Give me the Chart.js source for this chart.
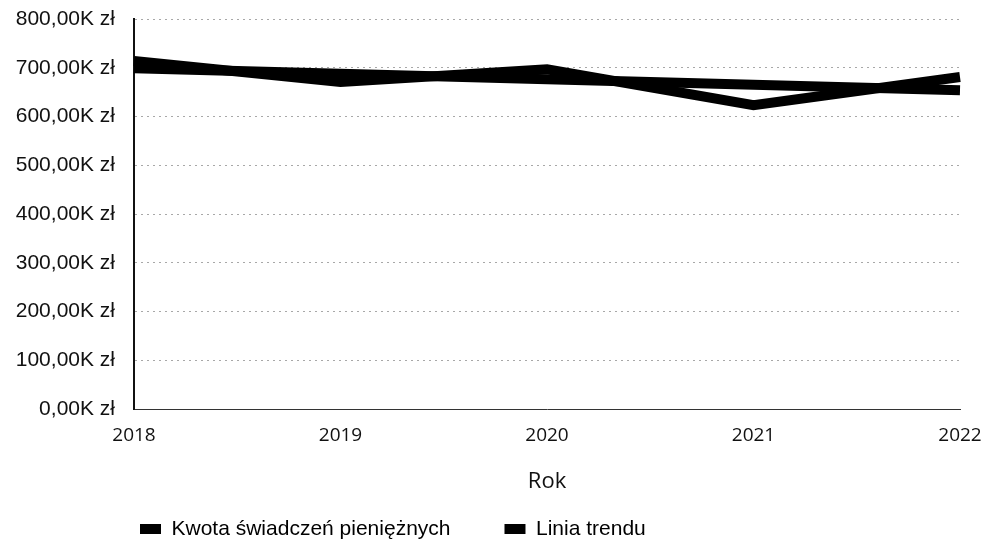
<!DOCTYPE html>
<html>
<head>
<meta charset="utf-8">
<script src="https://cdn.jsdelivr.net/npm/chart.js@4/dist/chart.umd.min.js"></script>
<style>
  html, body { margin: 0; padding: 0; background: #ffffff; }
  #wrap { width: 984px; height: 544px; position: relative; }
</style>
</head>
<body>
<div id="wrap"><canvas id="c" width="984" height="544"></canvas></div>
<script>
// Data (values in thousands of zł)
const years = ['2018', '2019', '2020', '2021', '2022'];
const kwotaSwiadczen = [714, 671, 697, 623, 681];
const liniaTrendu = [699, null, null, null, 654];
const seriesNames = ['Kwota świadczeń pieniężnych', 'Linia trendu'];
const axisTitleX = 'Rok';

const legendShift = {
  id: 'legendShift',
  afterLayout(chart) {
    const lg = chart.legend;
    if (!lg) return;
    const pad = lg.options.labels.padding;
    lg.left = 140 - pad;
    lg.right = lg.left + 980;
    lg.top = 518.5 - pad;
    lg.bottom = chart.height + 10;
  }
};

new Chart(document.getElementById('c'), {
  type: 'line',
  data: {
    labels: years,
    datasets: [
      {
        label: seriesNames[0],
        data: kwotaSwiadczen,
        borderColor: '#000000',
        backgroundColor: '#000000',
        borderWidth: 10,
        pointRadius: 0,
        tension: 0,
        fill: false
      },
      {
        label: seriesNames[1],
        data: liniaTrendu,
        borderColor: '#000000',
        backgroundColor: '#000000',
        borderWidth: 10,
        pointRadius: 0,
        tension: 0,
        spanGaps: true,
        fill: false
      }
    ]
  },
  options: {
    responsive: false,
    animation: false,
    layout: { padding: { top: 19, right: 24, left: 0, bottom: 0 } },
    plugins: {
      tooltip: { enabled: false },
      legend: {
        position: 'bottom',
        align: 'start',
        maxHeight: 44,
        labels: {
          color: '#000000',
          font: { family: 'Liberation Sans', size: 21 },
          boxWidth: 21,
          boxHeight: 10,
          padding: 54,
          generateLabels(chart) {
            const items = Chart.defaults.plugins.legend.labels.generateLabels(chart);
            items.forEach(it => { it.lineWidth = 0; it.fillStyle = '#000000'; it.strokeStyle = '#000000'; });
            return items;
          }
        }
      }
    },
    scales: {
      x: {
        type: 'category',
        offset: false,
        grid: { display: false, drawTicks: true, tickLength: 15, tickColor: 'rgba(0,0,0,0)' },
        border: { display: true, color: '#333333', width: 1 },
        ticks: {
          color: '#111111',
          font: { family: 'Open Sans', size: 19 },
          padding: 0,
          maxRotation: 0,
          autoSkip: false
        },
        title: {
          display: true,
          text: axisTitleX,
          color: '#111111',
          font: { family: 'Open Sans', size: 22 },
          padding: { top: 0, bottom: 5 }
        },
        afterFit(scale) { scale.height = 91; }
      },
      y: {
        min: 0,
        max: 800,
        grid: {
          color: '#a8a8a8',
          lineWidth: 1,
          drawTicks: true,
          tickLength: 19,
          tickColor: 'rgba(0,0,0,0)'
        },
        border: { display: true, color: '#111111', width: 2, dash: [2, 4] },
        ticks: {
          stepSize: 100,
          color: '#111111',
          font: { family: 'Liberation Sans', size: 21 },
          padding: 0,
          callback: v => v.toFixed(2).replace('.', ',') + 'K zł'
        },
        afterFit(scale) { scale.width = 134; }
      }
    }
  },
  plugins: [legendShift]
});
</script>
</body>
</html>
